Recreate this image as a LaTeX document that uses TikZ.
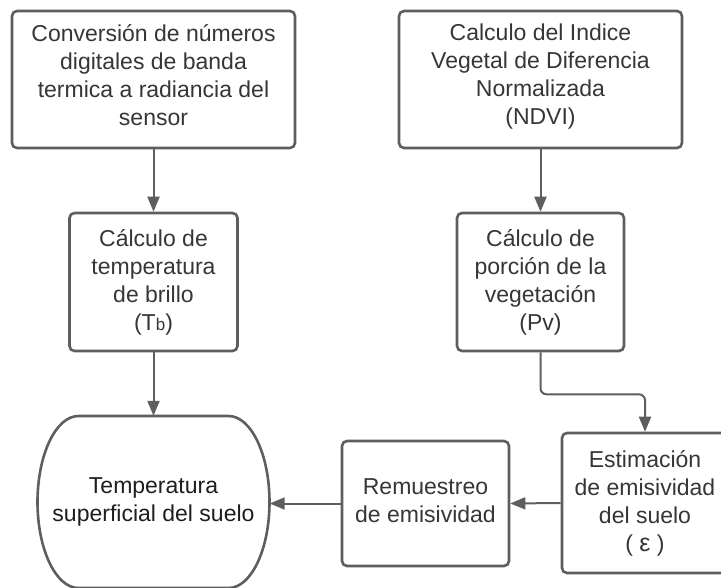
\documentclass[tikz,border=0pt]{standalone}
\usepackage{fontspec}
\setmainfont{Liberation Sans}
\usetikzlibrary{arrows.meta}
\definecolor{linegray}{HTML}{5E5E5E}
\definecolor{txtgray}{HTML}{363636}
\definecolor{txtdark}{HTML}{1E1E1E}
\begin{document}
\begin{tikzpicture}[x=1pt,y=-1pt,
  box/.style={draw=linegray, line width=2.6pt, rounded corners=5pt, inner sep=0pt},
  txt/.style={align=center, text=txtgray, font=\fontsize{23}{28}\selectfont, inner sep=0pt},
  conn/.style={draw=linegray, line width=2pt, -{Triangle[length=15pt,width=12pt]}},
  outline/.style={draw=linegray, line width=2.6pt}]
\clip (0,0) rectangle (721,587);
\fill[white] (0,0) rectangle (721,587);

\node[box, minimum width=283pt, minimum height=137pt] (b1) at (153.5,79.5) {};
\node[txt] (t1) at ([yshift=4pt]b1.center)
  {Conversión de números\\digitales de banda\\termica a radiancia del\\sensor};
\node[box, minimum width=283pt, minimum height=137pt] (b3) at (540.5,79.5) {};
\node[txt] (t3) at ([yshift=3pt]b3.center)
  {Calculo del Indice\\Vegetal de Diferencia\\Normalizada\\(NDVI)};
\node[box, minimum width=168pt, minimum height=138pt] (b2) at (153.5,282) {};
\node[txt] (t2) at (b2.center)
  {Cálculo de\\temperatura\\de brillo\\(T{\fontsize{17}{20}\selectfont b})};
\node[box, minimum width=167pt, minimum height=138pt] (b4) at (540.5,282) {};
\node[txt] (t4) at (b4.center)
  {Cálculo de\\porción de la\\vegetación\\(Pv)};
\node[box, minimum width=167pt, minimum height=125pt] (rem) at (425.5,503.5) {};
\node[txt] (trem) at ([yshift=3pt]rem.center) {Remuestreo\\de emisividad};
\node[box, minimum width=166pt, minimum height=140pt] (est) at (645,503) {};
\node[txt] (test) at (est.center)
  {Estimación\\de emisividad\\del suelo\\( {\fontsize{25}{28}\selectfont ε} )};
\node[txt, text=txtdark, minimum width=232pt, minimum height=172pt] (tls) at (153.5,502)
  {Temperatura\\superficial del suelo};

\begin{scope}[shift={(tls.center)}]
\draw[outline] (-75,-86) -- (75,-86)
  .. controls (97.6,-86) and (116,-47.5) .. (116,0)
  .. controls (116,47.5) and (97.6,86) .. (75,86)
  -- (-75,86)
  .. controls (-97.6,86) and (-116,47.5) .. (-116,0)
  .. controls (-116,-47.5) and (-97.6,-86) .. (-75,-86) -- cycle;
\end{scope}

\draw[conn] (b1.south) -- (b2.north);
\draw[conn] (b3.south) -- (b4.north);
\draw[conn] (b2.south) -- (tls.north);
\draw[conn, rounded corners=6pt] (b4.south) -- ++(0,42) -| (est.north);
\draw[conn] (est.west) -- (rem.east);
\draw[conn] (rem.west) -- (rem.west -| tls.east);
\end{tikzpicture}
\end{document}
